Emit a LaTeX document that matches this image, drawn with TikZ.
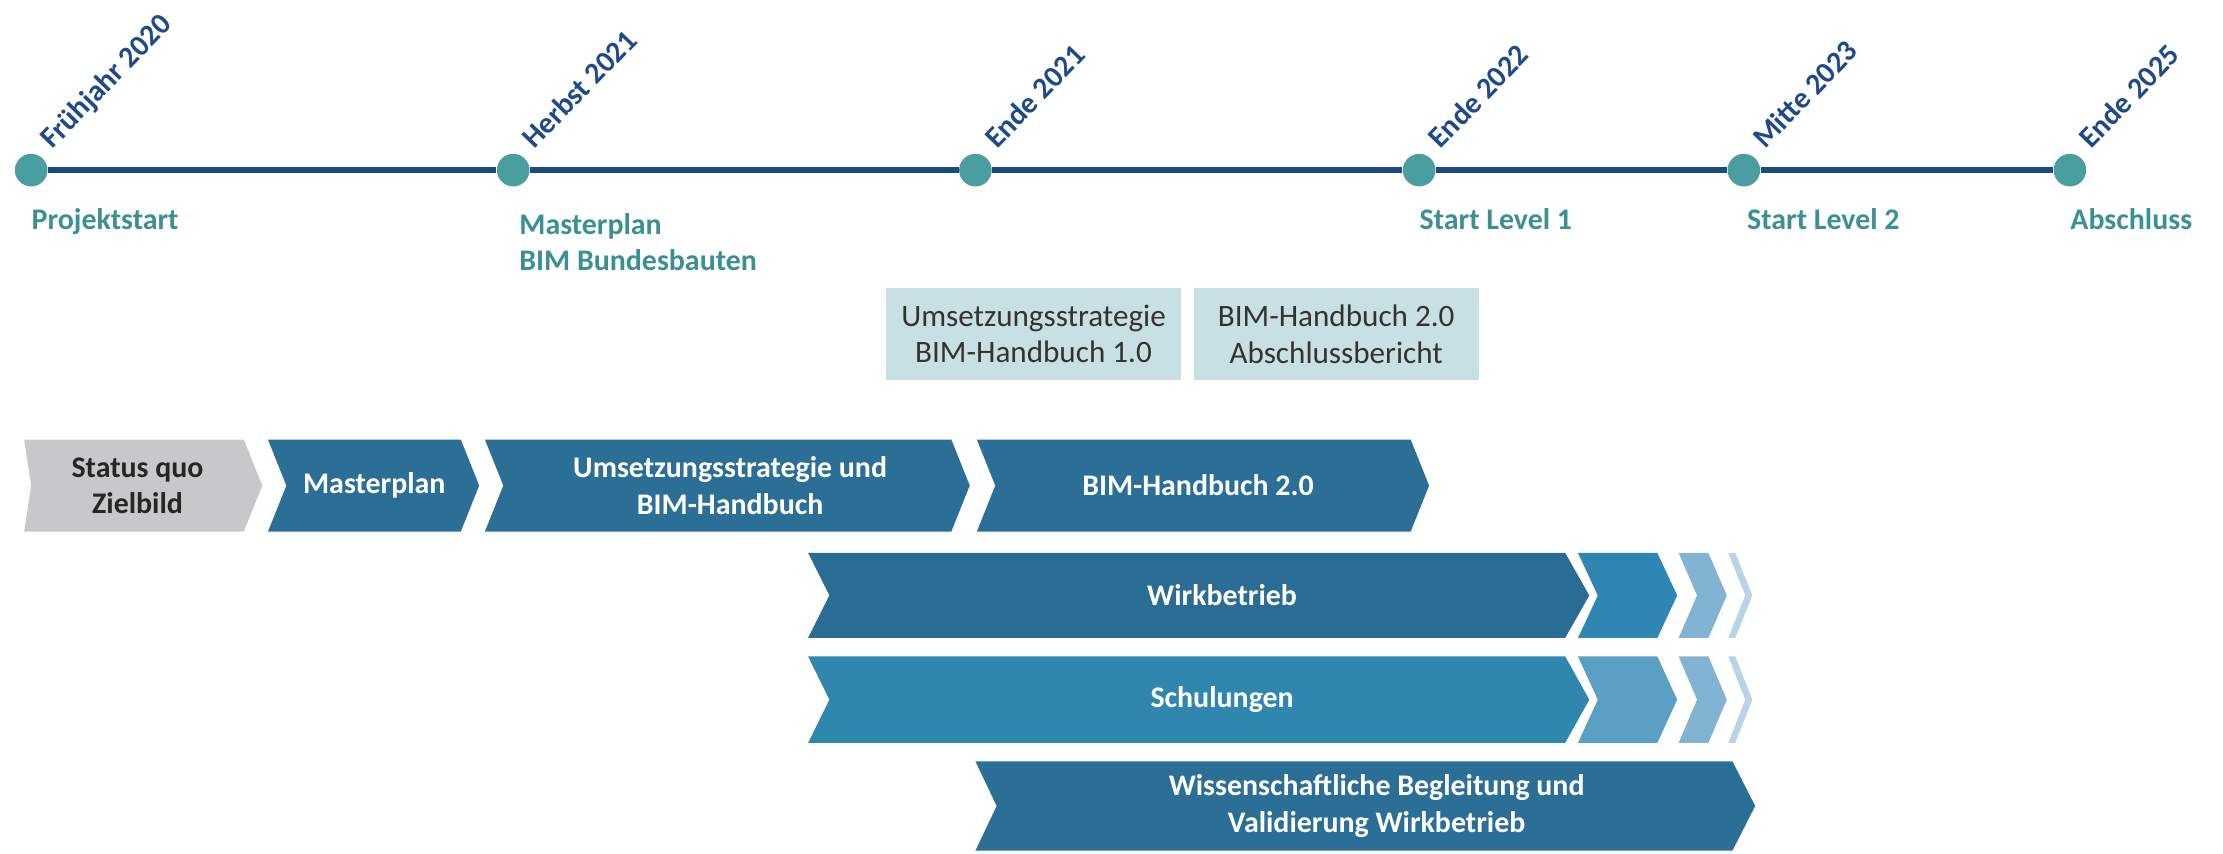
\documentclass[tikz,border=0pt]{standalone}
\usepackage{fontspec}
\setmainfont{Carlito}
\definecolor{linenavy}{HTML}{1D4A7E}
\definecolor{dotteal}{HTML}{4A9E9F}
\definecolor{datenavy}{HTML}{1F4A8A}
\definecolor{lblteal}{HTML}{3B9094}
\definecolor{boxfill}{HTML}{C8DFE4}
\definecolor{boxtext}{HTML}{333333}
\definecolor{chevgray}{HTML}{C7C8CA}
\definecolor{chevdark}{HTML}{2B6F97}
\definecolor{wirkA}{HTML}{2A6C94}
\definecolor{wirkB}{HTML}{2F86B2}
\definecolor{schulA}{HTML}{2F86AF}
\definecolor{schulB}{HTML}{5AA0C5}
\definecolor{fadeA}{HTML}{82B3D2}
\definecolor{fadeB}{HTML}{B8D4E6}
\begin{document}
\begin{tikzpicture}[x=0.2mm,y=-0.2mm,
    dot/.style={circle,fill=dotteal,inner sep=0pt,minimum size=4.6mm},
    datum/.style={rotate=46,anchor=base west,inner sep=0pt,text=datenavy,
      font=\bfseries\fontsize{12}{14}\selectfont},
    meilenstein/.style={anchor=base west,inner sep=0pt,align=left,text=lblteal,
      font=\bfseries\fontsize{12}{14.5}\selectfont},
    ergebnis/.style={fill=boxfill,text=boxtext,align=center,inner sep=0pt,
      font=\fontsize{12.5}{14.8}\selectfont},
    chevtext/.style={align=center,inner sep=0pt,text=white,
      font=\bfseries\fontsize{12}{14.5}\selectfont}]
\useasboundingbox (0,0) rectangle (1568,602);

% Zeitstrahl
\node[dot] (d1) at (22,120) {};
\node[dot] (d2) at (362,120) {};
\node[dot] (d3) at (688,120) {};
\node[dot] (d4) at (1001,120) {};
\node[dot] (d5) at (1230,120) {};
\node[dot] (d6) at (1460,120) {};
\draw[linenavy,line width=0.9mm] (d1) -- (d2) -- (d3) -- (d4) -- (d5) -- (d6);

\node[datum] (t1) at ([shift={(15,-14)}]d1.center) {Frühjahr 2020};
\node[datum] (t2) at ([shift={(15,-14)}]d2.center) {Herbst 2021};
\node[datum] (t3) at ([shift={(15,-14)}]d3.center) {Ende 2021};
\node[datum] (t4) at ([shift={(15,-14)}]d4.center) {Ende 2022};
\node[datum] (t5) at ([shift={(15,-14)}]d5.center) {Mitte 2023};
\node[datum] (t6) at ([shift={(15,-14)}]d6.center) {Ende 2025};

\node[meilenstein] (m1) at ([shift={(0,42)}]d1.center) {Projektstart};
\node[meilenstein,anchor=north west] (m2) at ([shift={(4,30)}]d2.center) {Masterplan\\BIM Bundesbauten};
\node[meilenstein] (m4) at ([shift={(0,42)}]d4.center) {Start Level 1};
\node[meilenstein] (m5) at ([shift={(2,42)}]d5.center) {Start Level 2};
\node[meilenstein] (m6) at ([shift={(0,42)}]d6.center) {Abschluss};

% Ergebnisse
\node[ergebnis,minimum width=41.6mm,minimum height=13mm] (e1) at (729,235.5) {Umsetzungsstrategie\\BIM-Handbuch 1.0};
\node[ergebnis,minimum width=40.2mm,minimum height=13mm] (e2) at (942.5,235.5) {BIM-Handbuch 2.0\\Abschlussbericht};

% Phasen
\fill[chevgray] (17,310) -- (172,310) -- (185,342.5) -- (172,375) -- (17,375) -- (22,342.5) -- cycle;
\fill[chevdark] (189,310) -- (325,310) -- (338,342.5) -- (325,375) -- (189,375) -- (202,342.5) -- cycle;
\fill[chevdark] (342,310) -- (671,310) -- (684,342.5) -- (671,375) -- (342,375) -- (355,342.5) -- cycle;
\fill[chevdark] (689,310) -- (995,310) -- (1008,342.5) -- (995,375) -- (689,375) -- (702,342.5) -- cycle;
\node[chevtext,text=black!85] (p1) at (97,342.5) {Status quo\\Zielbild};
\node[chevtext] (p2) at (264,342.5) {Masterplan};
\node[chevtext] (p3) at (515,342.5) {Umsetzungsstrategie und\\BIM-Handbuch};
\node[chevtext] (p4) at (845,342.5) {BIM-Handbuch 2.0};

% Wirkbetrieb
\fill[wirkA] (570,390) -- (1104,390) -- (1121,420) -- (1104,450) -- (570,450) -- (585,420) -- cycle;
\fill[wirkB] (1113,390) -- (1169,390) -- (1183,420) -- (1169,450) -- (1113,450) -- (1127,420) -- cycle;
\fill[fadeA] (1184,390) -- (1205,390) -- (1218,420) -- (1205,450) -- (1184,450) -- (1197,420) -- cycle;
\fill[fadeB] (1219,390) -- (1224,390) -- (1236,420) -- (1224,450) -- (1219,450) -- (1231,420) -- cycle;
\node[chevtext] (w) at (862,420) {Wirkbetrieb};

% Schulungen
\fill[schulA] (570,463) -- (1104,463) -- (1121,493.5) -- (1104,524) -- (570,524) -- (585,493.5) -- cycle;
\fill[schulB] (1113,463) -- (1169,463) -- (1183,493.5) -- (1169,524) -- (1113,524) -- (1127,493.5) -- cycle;
\fill[fadeA] (1184,463) -- (1205,463) -- (1218,493.5) -- (1205,524) -- (1184,524) -- (1197,493.5) -- cycle;
\fill[fadeB] (1219,463) -- (1224,463) -- (1236,493.5) -- (1224,524) -- (1219,524) -- (1231,493.5) -- cycle;
\node[chevtext] (s) at (862,493.5) {Schulungen};

% Begleitung
\fill[chevdark] (688,537) -- (1222,537) -- (1238,568.5) -- (1222,600) -- (688,600) -- (703,568.5) -- cycle;
\node[chevtext] (b) at (971,568.5) {Wissenschaftliche Begleitung und\\Validierung Wirkbetrieb};
\end{tikzpicture}
\end{document}
